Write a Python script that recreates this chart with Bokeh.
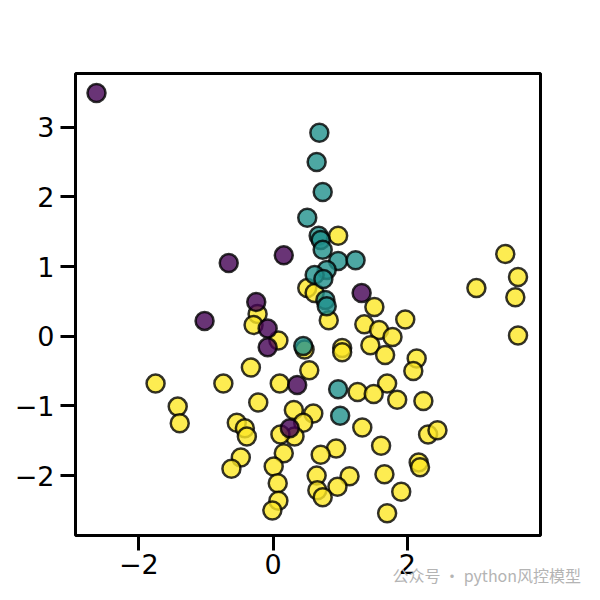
from bokeh.plotting import figure
from bokeh.models import FixedTicker, Range1d, Label
from bokeh.embed import file_html
from bokeh.resources import INLINE

# class 0 (purple)
x0 = [-2.63, -0.66, -1.02, 0.16, 1.32, -0.25, -0.08, -0.08, 0.36, 0.25]
y0 = [3.49, 1.05, 0.22, 1.16, 0.62, 0.49, 0.11, -0.16, -0.70, -1.32]

# class 1 (teal)
x1 = [0.69, 0.65, 0.74, 0.51, 0.68, 0.71, 0.74, 0.97, 1.23, 0.80, 0.62, 0.75,
      0.78, 0.80, 0.45, 0.97, 1.00]
y1 = [2.92, 2.50, 2.07, 1.70, 1.44, 1.38, 1.24, 1.08, 1.09, 0.95, 0.88, 0.82,
      0.52, 0.43, -0.14, -0.76, -1.14]

# class 2 (yellow)
x2 = [0.97, 3.46, 3.65, 3.03, 3.61, 0.51, 0.62, 1.51, 1.97, 1.36, 1.58, 1.78,
      0.83, 1.03, 1.03, 1.45, 1.67, 2.14, 2.09, 0.54, 3.65, 1.70, 1.26, 1.50,
      1.85, 2.24, 0.31, 0.60, 0.45, 0.32, 0.11, 1.33, 2.31, 2.45, 1.61, 0.94,
      0.71, 2.17, 2.19, 1.66, 1.14, 0.65, 0.96, 0.66, 0.74, 1.91, 1.70, -0.23,
      -0.29, 0.08, -0.33, -1.75, -0.74, 0.10, -1.42, -1.39, -0.22, -0.54, -0.42,
      -0.39, 0.16, -0.48, -0.62, 0.01, 0.07, 0.08, -0.01, 0.47]
y2 = [1.44, 1.18, 0.85, 0.69, 0.56, 0.69, 0.62, 0.42, 0.24, 0.17, 0.09, -0.01,
      0.23, -0.17, -0.23, -0.13, -0.27, -0.32, -0.50, -0.49, 0.01, -0.68, -0.80, -0.83,
      -0.91, -0.93, -1.06, -1.11, -1.24, -1.44, -1.41, -1.31, -1.41, -1.35, -1.57, -1.61,
      -1.70, -1.81, -1.88, -1.98, -2.01, -2.00, -2.16, -2.21, -2.31, -2.23, -2.54, 0.32,
      0.16, -0.06, -0.45, -0.68, -0.68, -0.68, -1.01, -1.25, -0.95, -1.24, -1.32,
      -1.44, -1.68, -1.74, -1.90, -1.87, -2.11, -2.36, -2.50, -0.19]

x_ticks = [-2, 0, 2]
y_ticks = [-2, -1, 0, 1, 2, 3]
colors = ["#440154", "#21918c", "#fde725"]

p = figure(width=600, height=600, output_backend="svg", toolbar_location=None,
           x_range=Range1d(-2.943, 3.985), y_range=Range1d(-2.859, 3.769),
           min_border_left=75, min_border_right=60, min_border_top=73, min_border_bottom=65)

p.xgrid.visible = False
p.ygrid.visible = False
p.outline_line_color = "black"
p.outline_line_width = 3
p.outline_line_alpha = 1.0
p.background_fill_color = "white"
p.border_fill_color = "white"

for ax in (p.xaxis[0], p.yaxis[0]):
    ax.axis_line_color = None
    ax.major_tick_line_width = 3
    ax.major_tick_line_color = "black"
    ax.major_tick_out = 15
    ax.major_tick_in = 0
    ax.minor_tick_line_color = None
    ax.major_label_text_font = "DejaVu Sans"
    ax.major_label_text_font_size = "27px"
    ax.major_label_text_color = "black"

p.xaxis[0].ticker = FixedTicker(ticks=x_ticks)
p.yaxis[0].ticker = FixedTicker(ticks=y_ticks)
p.xaxis[0].major_label_standoff = 3
p.yaxis[0].major_label_standoff = 6
p.xaxis[0].major_label_overrides = {t: (str(t).replace("-", "\u2212")) for t in x_ticks}
p.yaxis[0].major_label_overrides = {t: (str(t).replace("-", "\u2212")) for t in y_ticks}

common = dict(size=18, line_color="black", line_alpha=0.8, line_width=2.5, fill_alpha=0.8)
p.scatter(x2, y2, fill_color=colors[2], **common)
p.scatter(x0, y0, fill_color=colors[0], **common)
p.scatter(x1, y1, fill_color=colors[1], **common)

wm = Label(x=1.78, y=-3.43, x_units="data", y_units="data",
           text="公众号 · python风控模型", text_font="Noto Sans CJK SC",
           text_font_size="16px", text_color="#b4b4b4", text_baseline="middle")
p.add_layout(wm, "below")

open("out.html", "w").write(file_html(p, INLINE))
